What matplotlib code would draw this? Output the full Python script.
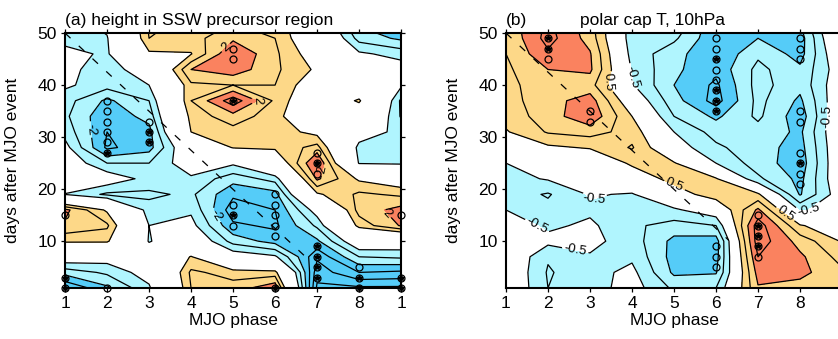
import matplotlib.pyplot as plt
import numpy as np

plt.rcParams['font.family'] = ['Liberation Sans', 'DejaVu Sans']

# grid: MJO phase 1..8,1 (9 columns) x days after event (every 3 days)
phases = [1, 2, 3, 4, 5, 6, 7, 8, 9]
days = [1, 4, 7, 10, 13, 16, 19, 22, 25, 28, 31, 34, 37, 40, 43, 46, 49, 52]
phase_labels = ['1', '2', '3', '4', '5', '6', '7', '8', '1']

# (a) height in SSW precursor region, rows = days, cols = phases
height = [
    [-3.0, -2.1, -1.1, 1.5, 1.7, 2.4, -3.6, -3.6, -3.6],
    [-1.8, -1.4, -0.7, 1.6, 1.3, 1.2, -3.3, -2.5, -2.6],
    [-0.5, -0.7, -0.4, 1.05, -0.6, -0.9, -2.9, -1.5, -1.4],
    [1.1, 1.1, -1.05, -0.3, -1.7, -2.2, -2.1, -0.4, -0.5],
    [1.9, 1.6, -1.0, -0.8, -2.4, -2.6, -1.4, 1.2, 2.05],
    [2.15, 0.9, -1.3, -1.1, -2.8, -2.5, -0.7, 1.7, 2.2],
    [-1.02, -1.6, -1.6, -1.4, -2.4, -2.2, 0.9, 1.6, 1.4],
    [-0.6, -0.6, -1.2, -1.1, -1.8, -1.3, 2.1, 0.9, 0.5],
    [-0.5, -1.5, -1.5, -0.6, -0.9, 0.3, 2.6, -1.05, -1.1],
    [-0.8, -2.6, -2.2, -0.2, 1.05, 1.1, 1.7, -1.2, -1.1],
    [-1.2, -2.5, -2.2, 1.0, 1.3, 1.3, 0.8, -0.6, -1.2],
    [-1.4, -2.4, -1.8, 1.2, 1.8, 1.2, 0.2, 0.3, -1.55],
    [-1.3, -2.1, -1.5, 1.5, 2.8, 1.4, 0.2, 1.1, -1.6],
    [-0.9, -1.3, -1.0, 1.4, 1.5, 1.5, 0.5, 0.2, -0.9],
    [-0.7, -1.5, -0.3, 2.0, 2.3, 1.6, 0.9, -0.6, -0.7],
    [-0.8, -1.1, 0.9, 0.97, 2.5, 1.6, 0.6, -0.9, -1.2],
    [-1.2, -1.05, 1.5, 1.3, 1.9, 1.5, 0.2, -1.7, -2.1],
    [-1.3, -0.8, 1.6, 1.4, 1.5, 1.5, -0.3, -2.1, -2.5],
]

# (b) polar cap T, 10hPa
polar_t = [
    [0.1, -1.0, -0.75, -0.25, -1.1, -1.0, 1.45, 1.3, 1.0],
    [0.1, -1.05, -0.7, -0.35, -1.6, -1.55, 1.7, 1.65, 1.1],
    [0.1, -0.95, -0.55, -0.6, -1.7, -1.7, 2.0, 1.6, 0.8],
    [0.0, -0.35, -0.35, -0.75, -1.65, -1.75, 2.3, 1.3, 0.45],
    [-0.2, -0.6, -0.4, -0.9, -1.2, -1.0, 2.3, 0.55, 0.1],
    [-0.5, -0.85, -0.6, -0.8, -0.6, -0.1, 1.6, -0.55, -0.3],
    [-0.75, -1.05, -0.45, -0.55, 0.2, 0.8, 0.6, -1.55, -0.1],
    [-0.7, -0.45, -0.3, 0.1, 0.7, 0.55, -0.9, -1.65, 0.1],
    [-0.5, -0.35, -0.1, 0.6, 0.55, -0.5, -1.25, -1.8, 0.15],
    [0.1, 0.4, 0.55, 1.05, -0.2, -0.9, -1.3, -1.7, 0.15],
    [0.45, 1.05, 1.2, 0.8, -0.5, -1.2, -1.2, -1.6, 0.2],
    [0.7, 1.25, 1.9, 0.5, -1.0, -1.6, -0.9, -1.8, 0.2],
    [0.8, 1.3, 1.75, 0.0, -1.3, -2.2, -0.85, -1.6, 0.1],
    [0.85, 1.3, 1.2, -0.45, -1.5, -2.1, -0.8, -1.35, 0.0],
    [0.9, 1.5, 1.6, -0.55, -1.4, -1.85, -0.85, -1.4, -0.1],
    [1.0, 1.9, 1.55, -0.7, -1.3, -1.95, -1.1, -1.7, 0.2],
    [1.05, 2.2, 1.3, -0.8, -0.9, -1.9, -1.5, -1.75, 0.5],
    [1.2, 2.1, 1.2, -0.8, -0.5, -1.9, -1.6, -1.5, 0.7],
]

# significance markers (phase, day)
a_circles = [(2, 37), (2, 35), (2, 33), (2, 31), (2, 29), (3, 33), (5, 47), (5, 45),
             (5, 17), (5, 13), (6, 19), (6, 17), (6, 15), (6, 13), (6, 11), (7, 27),
             (7, 23), (8, 5), (1, 15), (9, 15), (2, 1)]
a_stars = [(2, 27), (3, 31), (3, 29), (5, 37), (5, 15), (6, 1), (7, 25), (7, 9), (7, 7),
           (7, 5), (7, 3), (8, 3), (8, 1), (1, 3), (1, 1), (9, 3), (9, 1)]
b_circles = [(2, 45), (3, 35), (3, 33), (6, 49), (6, 47), (6, 43), (6, 41), (6, 9), (6, 7),
             (6, 5), (7, 15), (7, 7), (8, 49), (8, 47), (8, 45), (8, 35), (8, 33), (8, 27),
             (8, 23), (8, 21), (9, 43), (9, 35)]
b_stars = [(2, 49), (2, 47), (6, 45), (6, 39), (6, 37), (6, 35), (7, 13), (7, 11), (7, 9),
           (8, 25)]

colors = ['#55CCF8', '#B0F5FE', 'white', '#FDD888', '#FA825F']


def panel(ax, z, fill_lev, line_lev, circles, stars, dash_end, labels):
    X, Y = np.meshgrid(phases, days)
    Z = np.array(z)
    ax.contourf(X, Y, Z, levels=fill_lev, colors=colors)
    # one contour set per level so labels land on the right line
    for lev in line_lev:
        cs = ax.contour(X, Y, Z, levels=[lev], colors='black', linewidths=0.9,
                        linestyles='solid')
        pts = [p for l, p in labels if l == lev]
        if pts:
            ax.clabel(cs, manual=pts, fmt='%g', fontsize=9.5, inline=True,
                      inline_spacing=2)
    ax.plot([1, dash_end[0]], [50, dash_end[1]], color='black', lw=0.9,
            dashes=(6, 9))
    cx, cy = zip(*circles)
    ax.plot(cx, cy, 'o', ms=5, mfc='none', mec='black', mew=0.9, clip_on=False)
    sx, sy = zip(*stars)
    ax.plot(sx, sy, 'o', ms=5, mfc='none', mec='black', mew=0.9, clip_on=False)
    ax.plot(sx, sy, '*', ms=4, color='black', clip_on=False)
    ax.set_xlim(1, 9)
    ax.set_ylim(1, 50)
    ax.set_xticks(phases)
    ax.set_xticklabels(phase_labels)
    ax.set_yticks([10, 20, 30, 40, 50])
    ax.tick_params(direction='out', length=3, width=0.9, labelsize=12.5, pad=3,
                   top=True, right=True)
    for s in ax.spines.values():
        s.set_linewidth(1.5)
    ax.set_xlabel('MJO phase', fontsize=12.5, labelpad=1)
    ax.set_ylabel('days after MJO event', fontsize=12.5)
    ax.yaxis.set_label_coords(-0.135, 0.5)


fig = plt.figure(figsize=(8.38, 3.39), dpi=100)
ax1 = fig.add_axes([0.0776, 0.1504, 0.401, 0.752])
ax2 = fig.add_axes([0.6038, 0.1504, 0.401, 0.752])

panel(ax1, height, [-10, -2, -1, 1, 2, 10],
      [-3.5, -3, -2.5, -2, -1.5, -1, 1, 1.5, 2, 2.5, 3, 3.5],
      a_circles, a_stars, (6.7, 7.2),
      [(2, (4.8, 47.5)), (2, (5.6, 37.5)), (-2, (1.7, 31.5)), (-2, (4.6, 15)),
       (2, (7.2, 23.5)), (2, (8.5, 14))])
panel(ax2, polar_t, [-10, -1.5, -0.5, 0.5, 1.5, 10],
      [-2.5, -2, -1.5, -1, -0.5, 0.5, 1, 1.5, 2, 2.5],
      b_circles, b_stars, (6.3, 10.2),
      [(0.5, (3.45, 40.5)), (-0.5, (3.95, 41.5)), (-0.5, (3.1, 17.8)),
       (-0.5, (1.7, 12.2)), (-0.5, (2.6, 6)), (0.5, (5.0, 20.5)),
       (0.5, (7.55, 14)), (-0.5, (8.3, 14.8)), (-0.5, (8.62, 34))])
# the last "1" of panel (b) falls outside the picture
ax2.set_xticklabels(phase_labels[:-1] + [''])

ax1.text(0.0, 1.02, '(a) height in SSW precursor region', transform=ax1.transAxes,
         fontsize=12.5, ha='left', va='bottom')
ax2.text(0.0, 1.02, '(b)', transform=ax2.transAxes, fontsize=12.5, ha='left',
         va='bottom')
ax2.text(0.435, 1.02, 'polar cap T, 10hPa', transform=ax2.transAxes, fontsize=12.5,
         ha='center', va='bottom')

fig.savefig('out.png', dpi=100)
